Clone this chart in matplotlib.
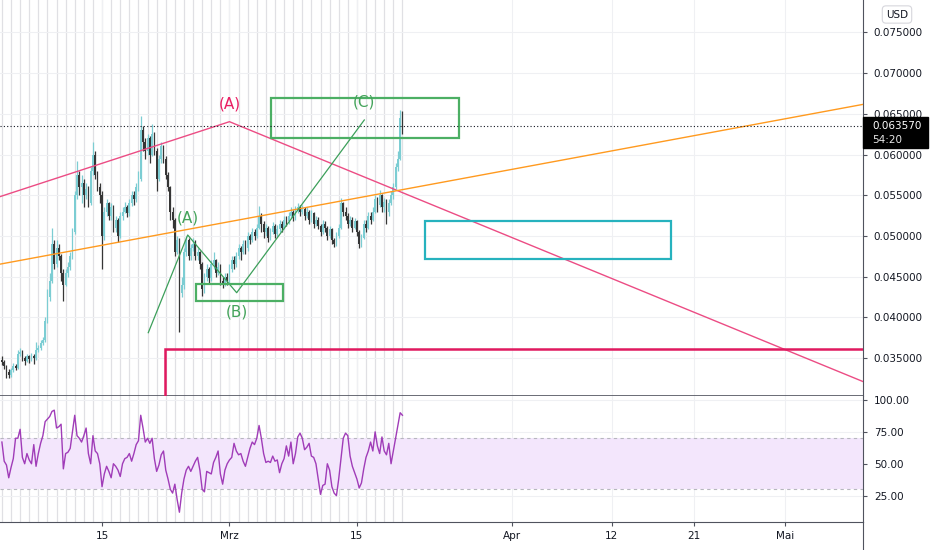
import datetime as dt

import matplotlib
matplotlib.use("Agg")
import matplotlib.pyplot as plt
import matplotlib.dates as mdates
from matplotlib.patches import Rectangle
from matplotlib.lines import Line2D
from matplotlib.transforms import IdentityTransform

# 6h candles, prices in 1e-5 USD
start = dt.datetime(2021, 2, 4)
first_open = 3480
closes = [
    3450, 3400, 3330, 3290, 3350, 3400, 3380, 3550, 3580, 3500,
    3470, 3520, 3490, 3530, 3500, 3600, 3620, 3680, 3720, 3950,
    4250, 4450, 4900, 4650, 4850, 4750, 4550, 4400, 4550, 4620,
    4750, 5050, 5500, 5750, 5600, 5650, 5500, 5580, 5400, 5800,
    6000, 5750, 5600, 5500, 5000, 5300, 5400, 5250, 5350, 5100,
    5200, 5000, 5250, 5300, 5350, 5280, 5400, 5500, 5450, 5600,
    5700, 6300, 6150, 6050, 6200, 6000, 6250, 6050, 5700, 5950,
    6100, 5950, 5750, 5600, 5300, 5200, 4800, 4950, 4300, 4400,
    4800, 4950, 4750, 4850, 4900, 4750, 4800, 4650, 4350, 4500,
    4600, 4480, 4650, 4700, 4550, 4620, 4450, 4420, 4500, 4450,
    4600, 4700, 4650, 4750, 4850, 4800, 4900, 4850, 5000, 4950,
    5050, 5000, 5100, 5250, 5150, 5050, 5100, 4980, 5050, 5120,
    5020, 5080, 5150, 5100, 5200, 5180, 5250, 5300, 5220, 5320,
    5350, 5300, 5330, 5250, 5300, 5200, 5280, 5150, 5200, 5120,
    5050, 5150, 5100, 5000, 5080, 4950, 4900, 5000, 5100, 5400,
    5300, 5250, 5150, 5200, 5100, 5180, 5050, 4900, 4980, 5150,
    5100, 5250, 5200, 5300, 5450, 5380, 5500, 5350, 5420, 5300,
    5400, 5500, 5600, 5850, 5950, 6450, 6357,
]
highs = [
    3520, 3480, 3420, 3360, 3380, 3440, 3430, 3600, 3620, 3600,
    3520, 3550, 3540, 3560, 3550, 3700, 3660, 3720, 3760, 4000,
    4350, 4550, 5100, 4950, 4950, 4900, 4780, 4600, 4600, 4680,
    4800, 5100, 5550, 5920, 5800, 5750, 5700, 5650, 5620, 5850,
    6150, 6050, 5800, 5650, 5550, 5350, 5450, 5420, 5400, 5380,
    5250, 5220, 5300, 5350, 5420, 5380, 5450, 5550, 5550, 5650,
    5800, 6470, 6350, 6200, 6250, 6230, 6370, 6280, 6080, 6000,
    6150, 6120, 5980, 5780, 5620, 5350, 5220, 5000, 4980, 4500,
    4850, 5000, 4980, 4900, 4980, 4950, 4850, 4820, 4680, 4550,
    4650, 4620, 4700, 4800, 4720, 4680, 4650, 4500, 4550, 4540,
    4650, 4750, 4760, 4800, 4900, 4880, 4950, 4950, 5050, 5030,
    5100, 5080, 5150, 5370, 5280, 5180, 5150, 5120, 5100, 5170,
    5150, 5130, 5200, 5180, 5250, 5250, 5300, 5360, 5320, 5370,
    5400, 5380, 5380, 5350, 5350, 5320, 5320, 5300, 5250, 5230,
    5150, 5200, 5180, 5120, 5120, 5100, 4980, 5050, 5150, 5470,
    5420, 5350, 5280, 5250, 5230, 5220, 5200, 5070, 5030, 5200,
    5200, 5300, 5300, 5350, 5500, 5480, 5560, 5520, 5470, 5450,
    5450, 5550, 5650, 5900, 6050, 6550, 6530,
]
lows = [
    3420, 3360, 3260, 3250, 3270, 3330, 3350, 3370, 3520, 3460,
    3420, 3450, 3440, 3470, 3430, 3480, 3570, 3600, 3660, 3700,
    3930, 4200, 4420, 4600, 4620, 4700, 4450, 4200, 4380, 4500,
    4580, 4720, 5020, 5450, 5500, 5400, 5350, 5450, 5350, 5380,
    5750, 5700, 5550, 5400, 4600, 4950, 5250, 5200, 5200, 5050,
    5050, 4920, 4980, 5200, 5280, 5230, 5250, 5370, 5380, 5420,
    5550, 5680, 6050, 5950, 6000, 5900, 5980, 6000, 5550, 5680,
    5900, 5900, 5700, 5550, 5200, 5100, 4750, 4780, 3820, 4250,
    4350, 4750, 4700, 4700, 4820, 4700, 4700, 4600, 4260, 4300,
    4450, 4420, 4450, 4600, 4500, 4520, 4400, 4360, 4380, 4400,
    4420, 4560, 4600, 4620, 4720, 4700, 4780, 4780, 4820, 4900,
    4920, 4950, 4980, 5080, 5050, 4980, 5000, 4920, 4950, 5020,
    4980, 4990, 5050, 5050, 5080, 5120, 5150, 5220, 5180, 5200,
    5280, 5250, 5270, 5200, 5220, 5150, 5170, 5100, 5120, 5080,
    5000, 5020, 5050, 4950, 4970, 4900, 4860, 4880, 4980, 5080,
    5250, 5200, 5100, 5120, 5050, 5080, 5000, 4850, 4870, 4960,
    5050, 5080, 5150, 5180, 5280, 5300, 5350, 5300, 5300, 5150,
    5250, 5380, 5450, 5580, 5800, 5930, 6250,
]
rsi = [
    67, 52, 49, 39, 47, 54, 70, 70, 77, 55, 50, 58, 53, 50, 65, 48, 58, 66, 72, 83,
    85, 87, 91, 92, 78, 79, 81, 46, 58, 59, 62, 75, 88, 72, 70, 67, 72, 78, 58, 50,
    72, 60, 58, 50, 32, 42, 48, 44, 39, 50, 48, 45, 40, 50, 54, 55, 58, 52, 58, 65,
    68, 88, 78, 67, 70, 66, 70, 54, 44, 49, 57, 60, 45, 38, 30, 27, 34, 22, 12, 27,
    38, 45, 48, 44, 48, 52, 55, 45, 30, 28, 44, 43, 42, 51, 55, 60, 42, 34, 45, 50,
    53, 55, 66, 60, 57, 58, 52, 48, 55, 62, 67, 65, 70, 80, 70, 58, 51, 52, 51, 56,
    52, 53, 43, 50, 54, 64, 56, 67, 50, 58, 71, 74, 70, 61, 63, 66, 56, 55, 50, 38,
    26, 33, 34, 50, 45, 32, 27, 25, 38, 54, 70, 74, 72, 56, 48, 43, 38, 31, 35, 46,
    55, 60, 67, 60, 75, 64, 58, 71, 60, 57, 66, 50, 60, 70, 80, 90, 88,
]

price_ticks = [0.035, 0.040, 0.045, 0.050, 0.055, 0.060, 0.065, 0.070, 0.075]
rsi_ticks = [25, 50, 75, 100]
date_ticks = [dt.datetime(2021, 2, 15), dt.datetime(2021, 3, 1), dt.datetime(2021, 3, 15),
              dt.datetime(2021, 4, 1), dt.datetime(2021, 4, 12), dt.datetime(2021, 4, 21),
              dt.datetime(2021, 5, 1)]
date_labels = ["15", "Mrz", "15", "Apr", "12", "21", "Mai"]

# drawings: (days from start, price)
pink_path = [(-0.3, 0.05480), (25.0, 0.06404), (95.0, 0.03193)]
orange_path = [(-0.3, 0.04652), (95.0, 0.06625)]
green_path = [(16.08, 0.03812), (20.41, 0.05012), (25.79, 0.04303), (39.81, 0.06425)]
green_box_b = (21.29, 30.85, 0.04202, 0.04407)
green_box_c = (29.56, 50.21, 0.06208, 0.06692)
teal_box = (46.48, 73.5, 0.04717, 0.05184)
red_box = (17.95, 120.0, 0.020, 0.03616)
pink_labels = [("(A)", 25.06, 0.06616)]
green_labels = [("(A)", 20.44, 0.05221), ("(B)", 25.83, 0.04066), ("(C)", 39.78, 0.06646)]


def day(d):
    return mdates.date2num(start + dt.timedelta(days=d))


TXT = "#131722"
AXC = "#50535e"
UP = "#7ccdd3"
DOWN = "#363636"

fig = plt.figure(figsize=(9.32, 5.5), dpi=100)
ax = fig.add_axes([0, 0.28, 0.9256, 0.72])
ax2 = fig.add_axes([0, 0.0515, 0.9256, 0.2285], sharex=ax)

x = [day(i / 4) for i in range(len(closes))]
opens = [first_open] + closes[:-1]
o = [v / 1e5 for v in opens]
c = [v / 1e5 for v in closes]
h = [v / 1e5 for v in highs]
l = [v / 1e5 for v in lows]
cols = [UP if cc >= oo else DOWN for oo, cc in zip(o, c)]

# grid
for d in range(0, 45):
    ax.axvline(day(d), color="#e0e0e4", lw=0.9, zorder=0)
    ax2.axvline(day(d), color="#e0e0e4", lw=0.9, zorder=0)
for t in date_ticks:
    ax.axvline(mdates.date2num(t), color="#eff0f3", lw=0.8, zorder=0)
    ax2.axvline(mdates.date2num(t), color="#eff0f3", lw=0.8, zorder=0)
for p in price_ticks:
    ax.axhline(p, color="#eff0f3", lw=0.8, zorder=0)
for r in rsi_ticks:
    ax2.axhline(r, color="#eff0f3", lw=0.8, zorder=0)

# candles
ax.vlines(x, l, h, colors=cols, lw=0.9, zorder=2)
bottoms = [min(a, b) for a, b in zip(o, c)]
heights = [max(abs(b - a), 0.00008) for a, b in zip(o, c)]
ax.bar(x, heights, bottom=bottoms, width=0.19, color=cols, lw=0, zorder=3)

# drawings
ax.plot([day(d) for d, _ in pink_path], [p for _, p in pink_path], color="#ec4c84", lw=1, zorder=4)
ax.plot([day(d) for d, _ in orange_path], [p for _, p in orange_path], color="#ff9a1f", lw=1, zorder=4)
ax.plot([day(d) for d, _ in green_path], [p for _, p in green_path], color="#3c9f5a", lw=0.9, zorder=4)
for (x0, x1, y0, y1), col, lw in [(green_box_b, "#4caf64", 1.6), (green_box_c, "#4caf64", 1.6),
                                  (teal_box, "#26b2be", 1.6), (red_box, "#e0195f", 1.8)]:
    ax.add_patch(Rectangle((day(x0), y0), day(x1) - day(x0), y1 - y0, fill=False,
                           ec=col, lw=lw, zorder=4))
for s, d, p in pink_labels:
    ax.text(day(d), p, s, color="#e91e63", fontsize=11, ha="center", va="center", zorder=5)
for s, d, p in green_labels:
    ax.text(day(d), p, s, color="#43a35a", fontsize=11, ha="center", va="center", zorder=5)

last = c[-1]
ax.axhline(last, color=TXT, lw=0.8, ls=(0, (1, 2)), zorder=4)

ax.set_xlim(day(-0.21), day(94.56))
ax.set_ylim(0.03034, 0.07899)
ax.yaxis.tick_right()
ax.set_yticks(price_ticks)
ax.set_yticklabels(["%.6f" % p for p in price_ticks])
ax.tick_params(axis="y", length=3, width=0.8, color=AXC, labelsize=7.5, labelcolor=TXT, pad=5)
ax.tick_params(axis="x", bottom=False, labelbottom=False)
for s in ["left", "top"]:
    ax.spines[s].set_visible(False)
ax.spines["right"].set_color(AXC)
ax.spines["bottom"].set_color(AXC)
ax.spines["bottom"].set_linewidth(1.2)

# RSI panel
ax2.fill_between([day(-1), day(100)], 30, 70, color="#f3e6fc", lw=0, zorder=0.5)
ax2.axhline(70, color="#b7b7bf", lw=0.8, ls=(0, (3, 3)), zorder=1)
ax2.axhline(30, color="#b7b7bf", lw=0.8, ls=(0, (3, 3)), zorder=1)
ax2.plot(x, rsi, color="#a03cb8", lw=1, zorder=3)
ax2.set_ylim(4.6, 103.1)
ax2.yaxis.tick_right()
ax2.set_yticks(rsi_ticks)
ax2.set_yticklabels(["%.2f" % r for r in rsi_ticks])
ax2.tick_params(axis="y", length=3, width=0.8, color=AXC, labelsize=7.5, labelcolor=TXT, pad=5)
ax2.set_xticks([mdates.date2num(t) for t in date_ticks])
ax2.set_xticklabels(date_labels)
ax2.tick_params(axis="x", length=3, width=0.8, color=AXC, labelsize=7.5, labelcolor=TXT, pad=4)
ax2.spines["left"].set_visible(False)
ax2.spines["top"].set_visible(False)
ax2.spines["right"].set_color(AXC)
ax2.spines["bottom"].set_color(AXC)
ax2.set_xlim(day(-0.21), day(94.56))

# right axis continues below
fig.add_artist(Line2D([0.9256, 0.9256], [0, 0.0515], color=AXC, lw=0.8, transform=fig.transFigure))

# last price label
fig.canvas.draw()
px, py = ax.transData.transform((day(94.56), last))
fig.add_artist(Rectangle((px, py - 22.8), 65, 31.6, transform=IdentityTransform(),
                         fc="black", ec="black", zorder=10))
fig.text(px + 9.3, py, "%.6f" % last, transform=IdentityTransform(), color="white",
         fontsize=7.5, va="center", ha="left", zorder=11)
fig.text(px + 9.3, py - 14, "54:20", transform=IdentityTransform(), color="#e8e8e8",
         fontsize=7.5, va="center", ha="left", zorder=11)

fig.text(897 / 932, 1 - 14.5 / 550, "USD", fontsize=7.5, color=TXT, ha="center", va="center",
         bbox=dict(boxstyle="round,pad=0.35", fc="white", ec="#d6d6dc", lw=0.8))

fig.savefig("out.png", dpi=100)
